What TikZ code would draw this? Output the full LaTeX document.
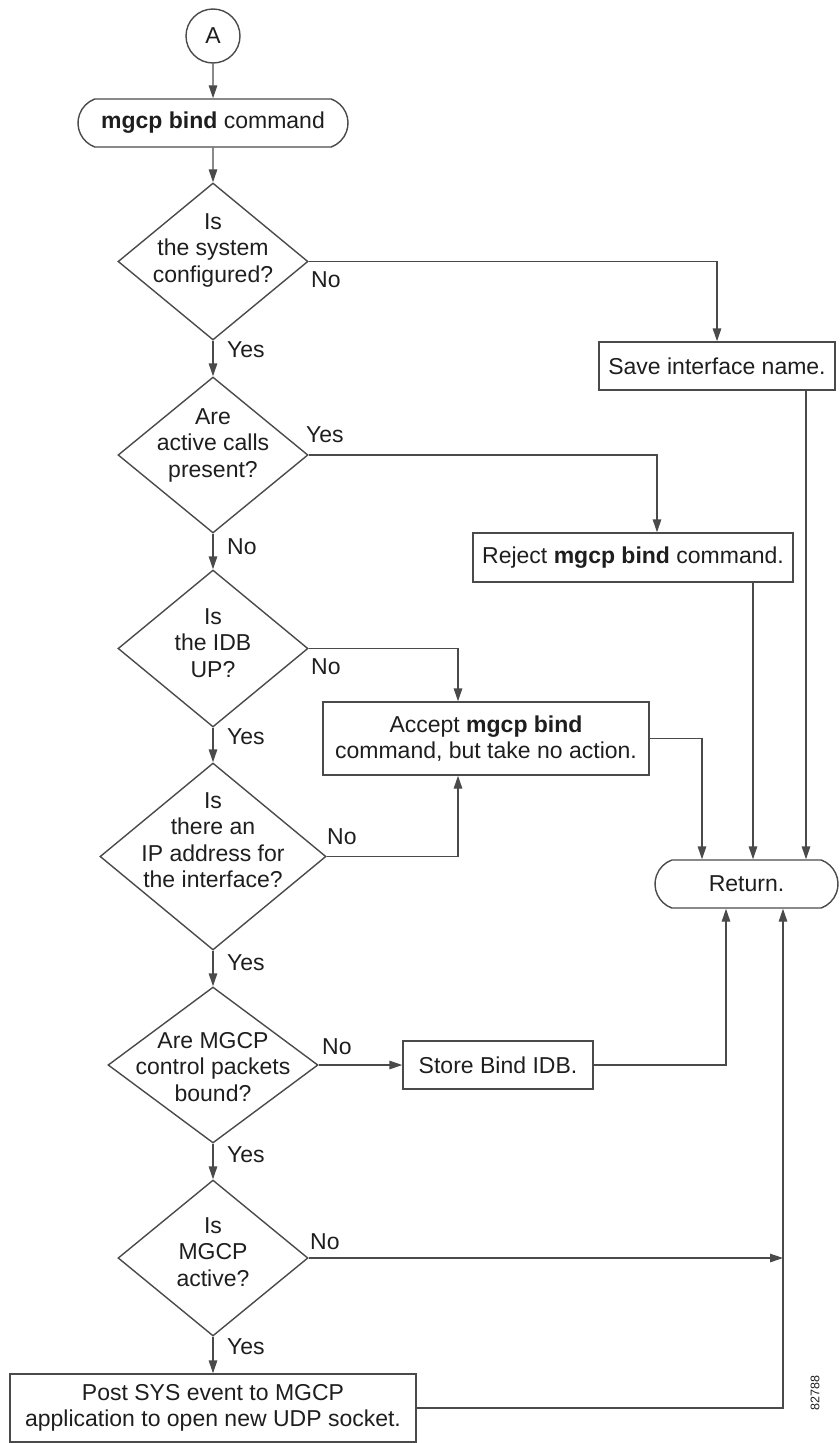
\documentclass[tikz,border=0pt]{standalone}
\usepackage{fontspec}
\setmainfont{Liberation Sans}
\usetikzlibrary{shapes.geometric,shapes.misc,arrows.meta}
\definecolor{lc}{HTML}{4A4A4A}
\definecolor{tc}{HTML}{1E1E1E}
\begin{document}
\begin{tikzpicture}[x=1pt,y=-1pt,
  txt/.style={font=\fontsize{23}{26.5}\selectfont, text=tc},
  lbl/.style={txt, inner sep=0pt, anchor=west},
  conn/.style={draw=lc, line width=1.4pt},
  arr/.style={conn, -{Triangle[length=13pt,width=8.5pt]}},
  box/.style={txt, draw=lc, line width=1.4pt, rectangle, inner sep=0pt, align=center},
  dia/.style={draw=lc, line width=1.4pt, diamond, inner sep=0pt},
  dtext/.style={txt, align=center, inner sep=0pt},
  stad/.style={txt, draw=lc, line width=1.4pt, rounded rectangle, rounded rectangle arc length=140, inner sep=0pt}
]
\useasboundingbox (0,0) rectangle (840,1443);

% start and command
\node[box, circle, minimum size=54pt] (A) at (213,36) {A};
\node[stad, minimum width=270pt, minimum height=48pt] (cmd) at (213,123) {\textbf{mgcp bind} command};

% decisions
\node[dia, minimum width=190pt, minimum height=157pt] (d1) at (213,261.5) {};
\node[dtext] (t1) at (213,250) {Is\\the system\\configured?};
\node[dia, minimum width=190pt, minimum height=156pt] (d2) at (213,455) {};
\node[dtext] (t2) at (213,445) {Are\\active calls\\present?};
\node[dia, minimum width=190pt, minimum height=157pt] (d3) at (213,648.5) {};
\node[dtext] (t3) at (213,643) {Is\\the IDB\\UP?};
\node[dia, minimum width=226pt, minimum height=187pt] (d4) at (213,856.5) {};
\node[dtext] (t4) at (213,840) {Is\\there an\\IP address for\\the interface?};
\node[dia, minimum width=210pt, minimum height=156pt] (d5) at (213,1065) {};
\node[dtext] (t5) at (213,1067) {Are MGCP\\control packets\\bound?};
\node[dia, minimum width=190pt, minimum height=156pt] (d6) at (213,1258) {};
\node[dtext] (t6) at (213,1252) {Is\\MGCP\\active?};

% process boxes
\node[box, minimum width=236pt, minimum height=48pt] (save) at (717,366) {Save interface name.};
\node[box, minimum width=320pt, minimum height=49pt] (rej) at (633,557.5) {Reject \textbf{mgcp bind} command.};
\node[box, minimum width=326pt, minimum height=73pt] (acc) at (486,738.5) {Accept \textbf{mgcp bind}\\command, but take no action.};
\node[stad, minimum width=183pt, minimum height=48pt] (ret) at (746.5,884) {Return.};
\node[box, minimum width=190pt, minimum height=48pt] (store) at (498,1065) {Store Bind IDB.};
\node[box, minimum width=406pt, minimum height=68pt] (post) at (213,1408) {Post SYS event to MGCP\\application to open new UDP socket.};

% main spine
\draw[arr] (A) -- (cmd);
\draw[arr] (cmd) -- (d1);
\draw[arr] (d1) -- (d2);
\draw[arr] (d2) -- (d3);
\draw[arr] (d3) -- (d4);
\draw[arr] (d4) -- (d5);
\draw[arr] (d5) -- (d6);
\draw[arr] (d6) -- (post);

% side branches
\draw[arr] (d1.east) -| (save.north);
\draw[arr] (d2.east) -| ([xshift=24pt]rej.north);
\draw[arr] (d3.east) -| ([xshift=-28pt]acc.north);
\draw[arr] (d4.east) -| ([xshift=-28pt]acc.south);
\draw[arr] (acc.east) -| ([xshift=-44.5pt]ret.north);
\draw[arr] ([xshift=120pt]rej.south) -- ([xshift=120pt]rej.south |- ret.north);
\draw[arr] ([xshift=89pt]save.south) -- ([xshift=89pt]save.south |- ret.north);
\draw[arr] (d5.east) -- (store.west);
\draw[arr] (store.east) -| ([xshift=-20.5pt]ret.south);
\coordinate (j) at (783,1258);
\draw[arr] (d6.east) -- (j);
\draw[arr] (post.east) -| ([xshift=36.5pt]ret.south);

% branch labels
\node[lbl] (l1) at (311,280) {No};
\node[lbl] (l1y) at (227,350) {Yes};
\node[lbl] (l2) at (306,435) {Yes};
\node[lbl] (l2n) at (227,547) {No};
\node[lbl] (l3) at (311,667) {No};
\node[lbl] (l3y) at (227,737) {Yes};
\node[lbl] (l4) at (327,837) {No};
\node[lbl] (l4y) at (227,963) {Yes};
\node[lbl] (l5) at (322,1047) {No};
\node[lbl] (l5y) at (227,1155) {Yes};
\node[lbl] (l6) at (310,1242) {No};
\node[lbl] (l6y) at (227,1347) {Yes};

\node[rotate=90, font=\fontsize{12.5}{14}\selectfont, text=tc] (fig) at (815,1393) {82788};
\end{tikzpicture}
\end{document}
